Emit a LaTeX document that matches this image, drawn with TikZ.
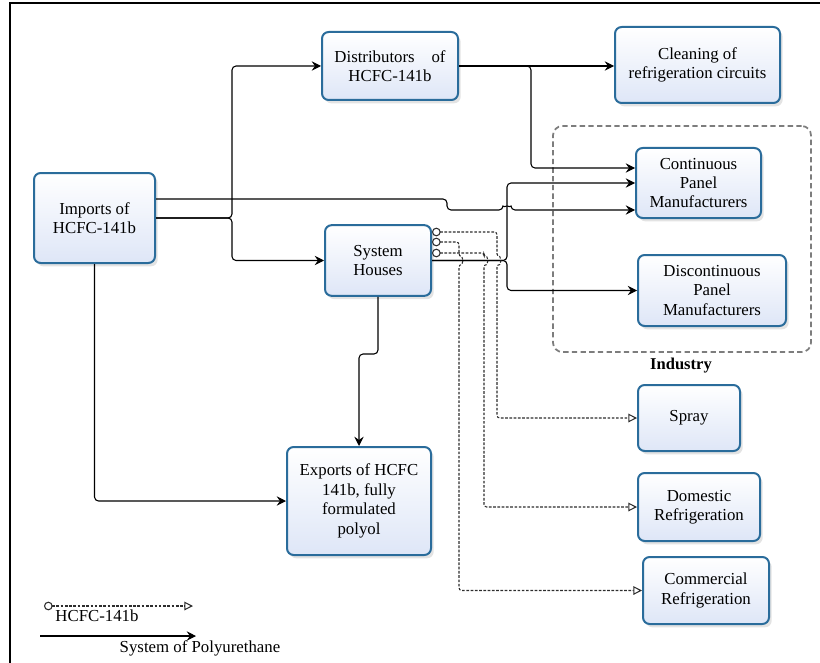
\documentclass[tikz,border=0pt]{standalone}
\usepackage{fontspec}
\setmainfont{Liberation Serif}
\usetikzlibrary{arrows.meta,shadows}
\definecolor{boxline}{RGB}{42,108,155}
\definecolor{boxfill}{RGB}{222,230,247}
\definecolor{dashg}{RGB}{45,45,45}
\definecolor{indg}{RGB}{125,125,125}

\tikzset{
  unit/.style={rectangle, rounded corners=5pt, draw=boxline, line width=1.5pt,
    top color=white, bottom color=boxfill,
    drop shadow={shadow xshift=2pt, shadow yshift=-2.5pt, opacity=0.22},
    align=center, font=\rmfamily\fontsize{12.6}{14.6}\selectfont, inner sep=2pt},
  group/.style={rectangle, rounded corners=7pt, draw=indg, line width=1.3pt,
    dash pattern=on 4pt off 2.5pt},
  flow/.style={-{Stealth[length=7pt,width=7pt,inset=2.5pt]}, line width=0.8pt,
    rounded corners=3pt},
  hcfc/.style={{Circle[fill=white,length=6.5pt,width=6.5pt]}-{Triangle[open,length=6.5pt,width=6.5pt]},
    dash pattern=on 2pt off 1.2pt, line width=0.8pt, draw=dashg, rounded corners=2pt},
  tag/.style={font=\rmfamily\fontsize{12.6}{14.6}\selectfont, inner sep=1pt},
}

\begin{document}
\begin{tikzpicture}[x=0.75pt,y=-0.75pt]
\useasboundingbox (0,0) rectangle (820,663);
\draw[line width=0.8pt] (10,663) |- (820,3);

\node[group, minimum width=193.5pt, minimum height=169.5pt] (11) at (682,239) {};
\node[font=\rmfamily\bfseries\fontsize{12.4}{14}\selectfont] (12) at (681,366) {Industry};

\node[unit, minimum width=90.75pt, minimum height=67.5pt] (1) at (94.5,218) {Imports of\\HCFC-141b};
\node[unit, minimum width=102pt, minimum height=51pt] (2) at (390,66) {Distributors\quad of\\HCFC-141b};
\node[unit, minimum width=123.75pt, minimum height=57pt] (3) at (697.5,65) {Cleaning of\\refrigeration circuits};
\node[unit, minimum width=79.5pt, minimum height=53pt] (4) at (378,260.5) {System\\Houses};
\node[unit, minimum width=93.75pt, minimum height=52.5pt] (5) at (698.5,183) {Continuous\\Panel\\Manufacturers};
\node[unit, minimum width=111pt, minimum height=53.25pt] (6) at (712,290.5) {Discontinuous\\Panel\\Manufacturers};
\node[unit, minimum width=76.5pt, minimum height=49.5pt] (7) at (689,418) {Spray};
\node[unit, minimum width=91.5pt, minimum height=51pt] (8) at (699,507) {Domestic\\Refrigeration};
\node[unit, minimum width=94.5pt, minimum height=50.25pt] (9) at (706,590.5) {Commercial\\Refrigeration};
\node[unit, minimum width=108pt, minimum height=81pt] (10) at (359,501) {Exports of HCFC\\141b, fully\\formulated\\polyol};

\draw[flow] (1.east) -- (232,218) |- (2.west);
\draw[flow] (1.east) -- (232,218) |- (4.west);
\draw[flow] (1.east |- 0,199) -- (447,199) -- (447,210) -- (503,210) arc[start angle=180,end angle=0,radius=3pt] -- (5.west |- 0,210);
\draw[flow] (2.east) -- (3.west |- 2.east);
\draw[flow] (2.east) -- (531,66) |- (5.west |- 0,168);
\draw[flow] (4.east) -- (507,260.5) |- (5.west);
\draw[flow] (4.east) -- (507,260.5) |- (6.west);
\draw[flow] (4.south) |- (10.north |- 0,354) -- (10.north);
\draw[flow] (1.south) |- (10.west);

\draw[hcfc] (4.east |- 0,232) -- (497,232) -- (497,256.5) arc[start angle=90,end angle=-90,radius=3pt] |- (7.west);
\draw[hcfc] (4.east |- 0,253) -- (484,253) -- (484,256.5) arc[start angle=90,end angle=-90,radius=3pt] |- (8.west);
\draw[hcfc] (4.east |- 0,242) -- (459,242) -- (459,256.5) arc[start angle=90,end angle=-90,radius=3pt] |- (9.west);

\coordinate (13) at (44,606);
\coordinate (14) at (193,606);
\draw[hcfc] (13) -- (14);
\node[tag] (15) at (97,616) {HCFC-141b};
\coordinate (16) at (40,636);
\coordinate (17) at (196,636);
\draw[flow] (16) -- (17);
\node[tag] (18) at (200,648) {System of Polyurethane};
\end{tikzpicture}
\end{document}
